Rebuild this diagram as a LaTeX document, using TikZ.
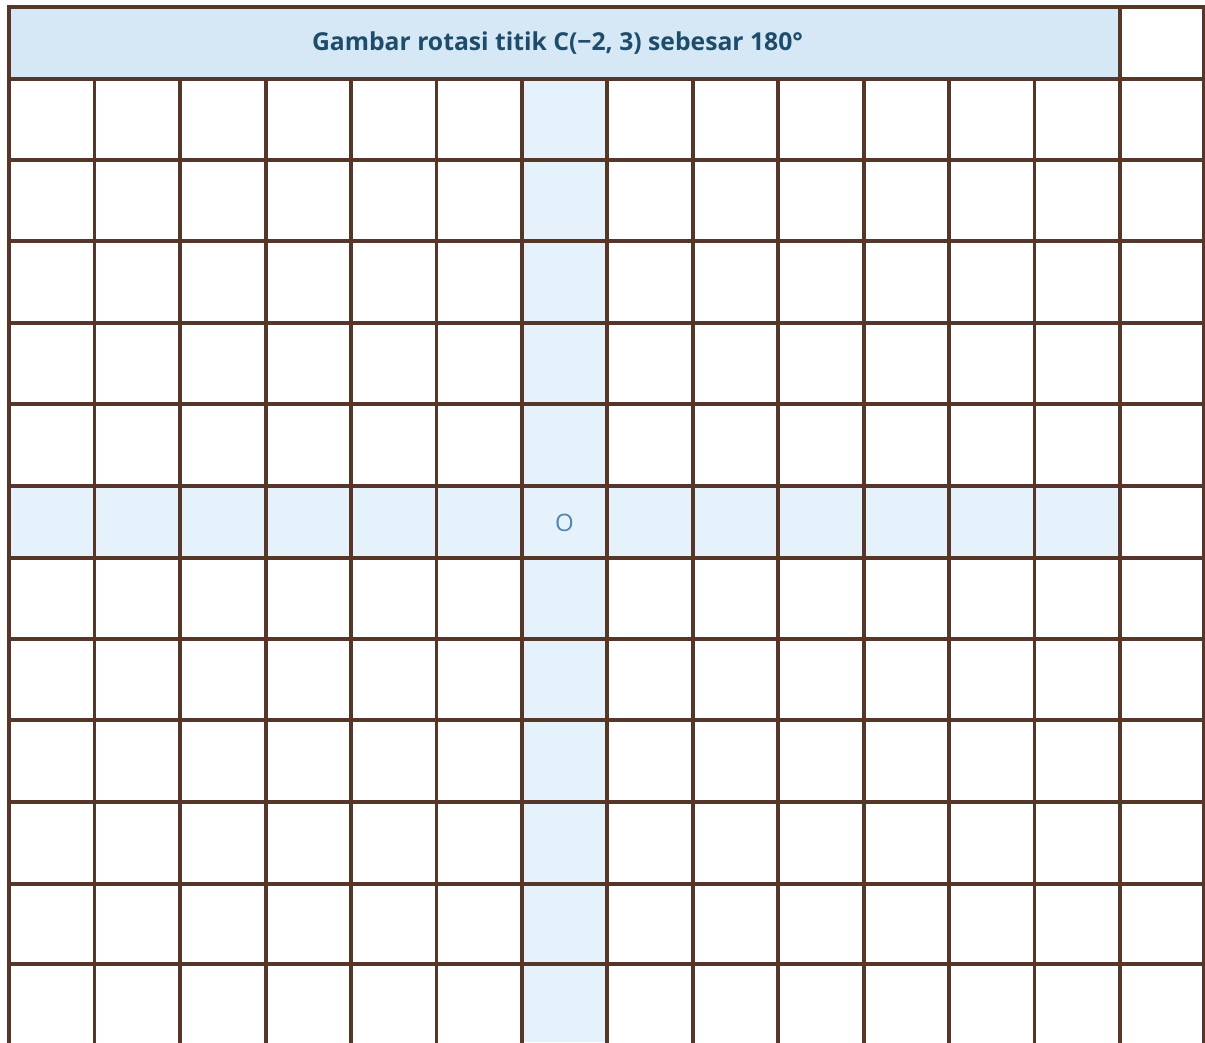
\documentclass[tikz,border=0pt]{standalone}
\usepackage{fontspec}
\setmainfont{Open Sans}
\definecolor{gridline}{HTML}{553629}
\definecolor{headfill}{HTML}{D6E8F6}
\definecolor{axisfill}{HTML}{E5F2FC}
\definecolor{titlecol}{HTML}{1E4D6B}
\definecolor{ocol}{HTML}{4A88AE}
\begin{document}
\begin{tikzpicture}[x=1pt,y=-1pt,
  gridstroke/.style={draw=gridline,line width=3.4pt,line cap=rect},
  titletext/.style={font=\fontsize{24.7}{28}\selectfont\bfseries,text=titlecol,inner sep=0pt},
  origintext/.style={font=\fontsize{24}{27}\selectfont,text=ocol,inner sep=0pt}]
\useasboundingbox (0,0) rectangle (1205,1042);
\fill[white] (0,0) rectangle (1205,1042);
% fills
\fill[headfill] (9,7) rectangle (1120,79);
\fill[axisfill] (522,79) rectangle (607,1042);
\fill[axisfill] (9,486) rectangle (1120,558);
% horizontal lines
\foreach \y in {7,79,160,241,323,404,486,558,639,720,802,884,964}
  \draw[gridstroke] (9,\y) -- (1204,\y);
% vertical lines
\foreach \x in {9,1120,1204}
  \draw[gridstroke] (\x,7) -- (\x,1045);
\foreach \x in {94.5,180,266,351,436.5,522,607,693,778,864,949,1034.5}
  \draw[gridstroke] (\x,79) -- (\x,1045);
\node[titletext] (title) at (557.5,43) {Gambar rotasi titik C(−2, 3) sebesar 180°};
\node[origintext] (origin) at (564.5,523) {O};
\end{tikzpicture}
\end{document}
